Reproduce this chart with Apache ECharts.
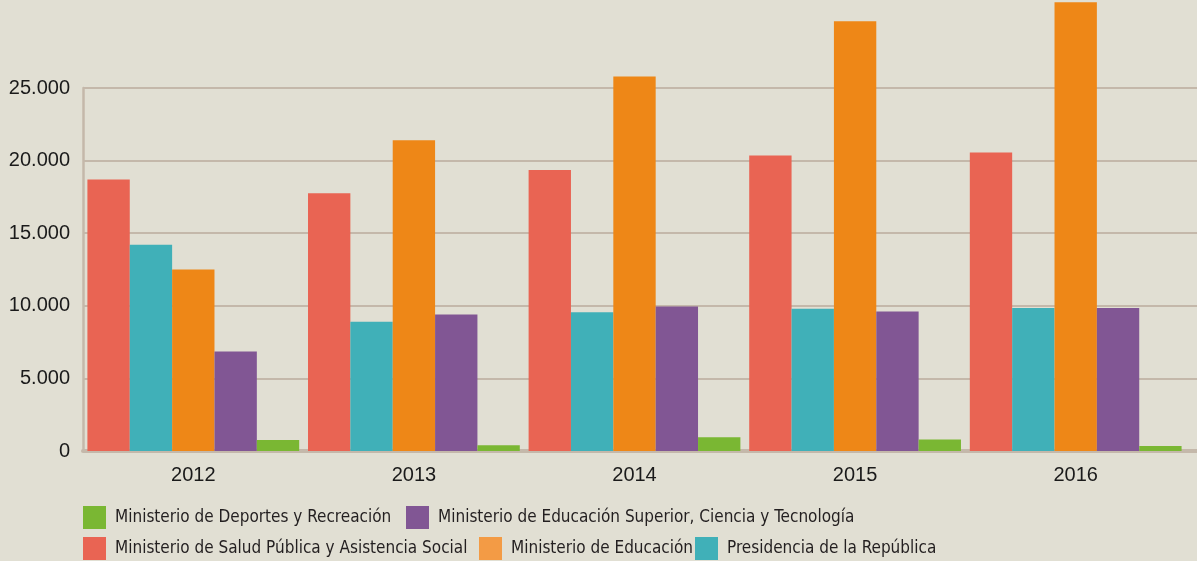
<!DOCTYPE html>
<html>
<head>
<meta charset="utf-8">
<script src="https://cdn.jsdelivr.net/npm/echarts@6/dist/echarts.min.js"></script>
<style>
  html, body { margin: 0; padding: 0; background: #e1dfd3; }
  #chart { width: 1197px; height: 561px; }
</style>
</head>
<body>
<div id="chart"></div>
<script>
  var years = ['2012', '2013', '2014', '2015', '2016'];
  var yTicks = [0, 5000, 10000, 15000, 20000, 25000];

  // orden de barras dentro de cada año
  var salud       = [18700, 17750, 19350, 20350, 20550];
  var presidencia = [14200,  8900,  9550,  9800,  9850];
  var educacion   = [12500, 21400, 25800, 29600, 30900];
  var superior    = [ 6850,  9400,  9950,  9600,  9850];
  var deportes    = [  750,   400,   950,   800,   350];

  var names = {
    salud: 'Ministerio de Salud Pública y Asistencia Social',
    presidencia: 'Presidencia de la República',
    educacion: 'Ministerio de Educación',
    superior: 'Ministerio de Educación Superior, Ciencia y Tecnología',
    deportes: 'Ministerio de Deportes y Recreación'
  };
  var colors = {
    salud: '#e96453',
    presidencia: '#40b0b8',
    educacion: '#ee8717',
    superior: '#815694',
    deportes: '#7ab733'
  };

  var lineColor = '#c4b8aa';
  var legendFont = "'Liberation Sans Narrow', 'DejaVu Sans Condensed', sans-serif";
  var axisFont = "'Liberation Sans', 'Noto Sans', sans-serif";

  function bar(key, data) {
    return {
      name: names[key],
      type: 'bar',
      data: data,
      clip: false,
      barGap: '0%',
      barCategoryGap: '4%',
      itemStyle: { color: colors[key] },
      xAxisIndex: 0,
      yAxisIndex: 0
    };
  }

  function legend(key, left, top, swatch) {
    return {
      left: left,
      top: top,
      itemWidth: 23,
      itemHeight: 23,
      icon: 'rect',
      padding: 0,
      selectedMode: false,
      data: [{ name: names[key], itemStyle: { color: swatch || colors[key] } }],
      textStyle: { fontFamily: legendFont, fontSize: 17, color: '#231f20', padding: [0, 0, 0, 4] }
    };
  }

  var chart = echarts.init(document.getElementById('chart'));
  chart.setOption({
    backgroundColor: '#e1dfd3',
    animation: false,
    grid: [
      { left: 83, right: 11, top: 88, bottom: 110 },
      { left: 83, right: 0, top: 88, bottom: 110 }
    ],
    legend: [
      legend('deportes', 83, 506),
      legend('superior', 406, 506),
      legend('salud', 83, 537),
      legend('educacion', 479, 537, '#f39b45'),
      legend('presidencia', 695, 537)
    ],
    xAxis: [
      {
        type: 'category',
        gridIndex: 0,
        data: years,
        axisLine: { show: false },
        axisTick: { show: false },
        axisLabel: { margin: 14, fontFamily: axisFont, fontSize: 20, color: '#1a1a1a' }
      },
      {
        type: 'category',
        gridIndex: 1,
        data: years,
        offset: 2,
        axisLine: { show: true, lineStyle: { color: lineColor, width: 4 } },
        axisTick: { show: false },
        axisLabel: { show: false }
      }
    ],
    yAxis: [
      {
        type: 'value',
        gridIndex: 0,
        min: 0,
        max: 25000,
        interval: 5000,
        show: false,
        splitLine: { show: false }
      },
      {
        type: 'value',
        gridIndex: 1,
        min: yTicks[0],
        max: yTicks[yTicks.length - 1],
        interval: 5000,
        axisLine: { show: true, lineStyle: { color: lineColor, width: 2.5 } },
        axisTick: { show: false },
        splitLine: { show: true, lineStyle: { color: lineColor, width: 2 } },
        axisLabel: {
          margin: 13,
          fontFamily: axisFont,
          fontSize: 20,
          color: '#1a1a1a',
          formatter: function (v) {
            return v === 0 ? '0' : (v / 1000) + '.000';
          }
        }
      }
    ],
    series: [
      bar('salud', salud),
      bar('presidencia', presidencia),
      bar('educacion', educacion),
      bar('superior', superior),
      bar('deportes', deportes)
    ]
  });
</script>
</body>
</html>
